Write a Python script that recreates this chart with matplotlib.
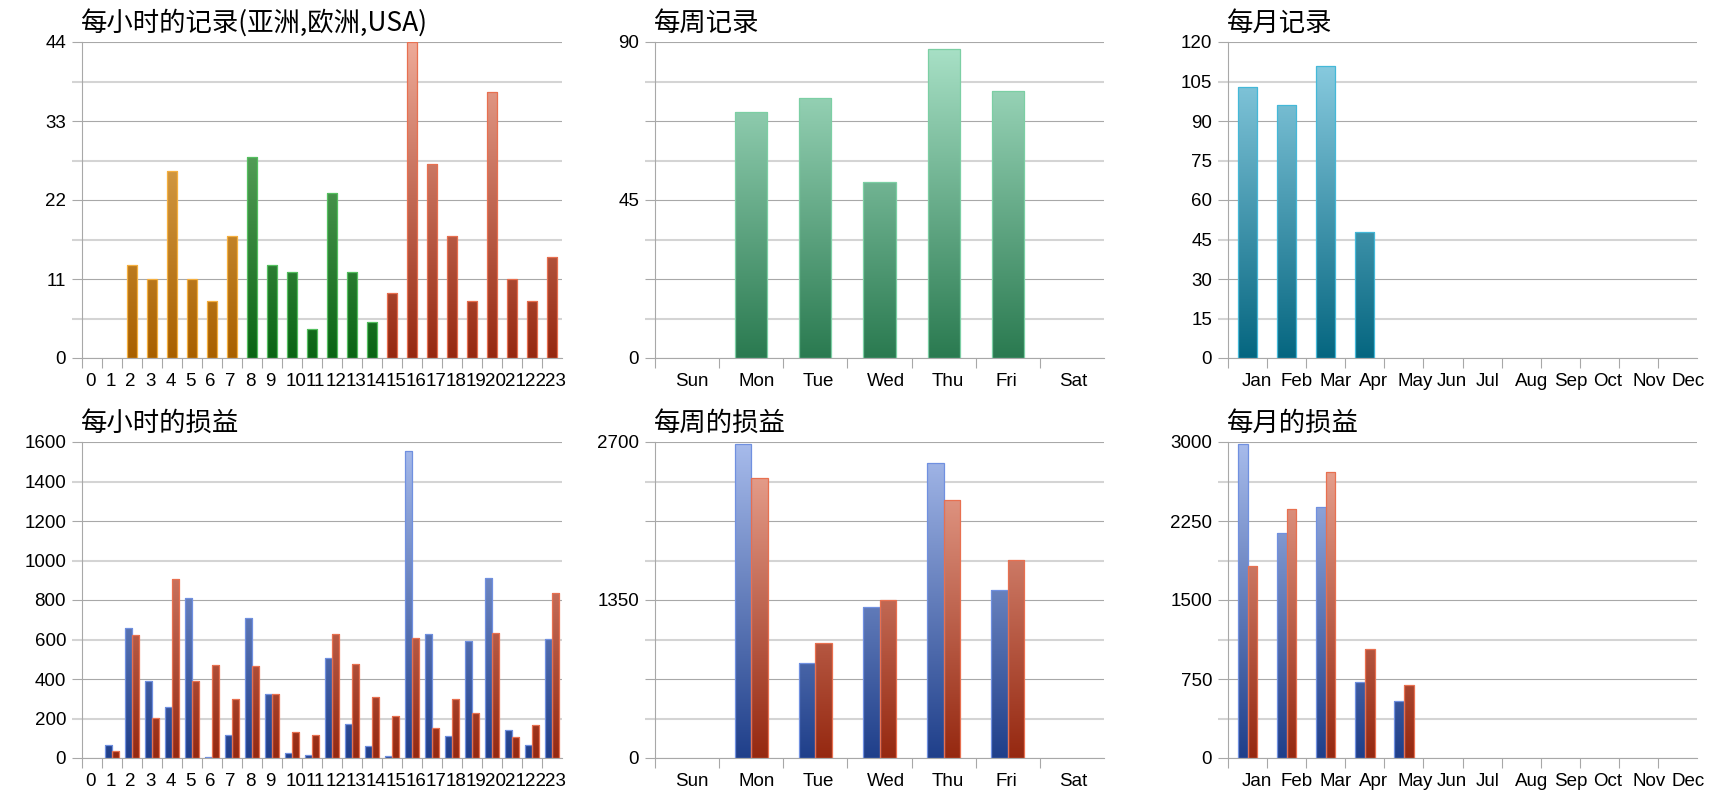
import numpy as np
import matplotlib
matplotlib.use('Agg')
import matplotlib.pyplot as plt
from matplotlib.colors import LinearSegmentedColormap
from matplotlib.transforms import ScaledTranslation

plt.rcParams['font.family'] = ['Liberation Sans', 'DejaVu Sans']

hours = [str(h) for h in range(24)]
days = ['Sun', 'Mon', 'Tue', 'Wed', 'Thu', 'Fri', 'Sat']
months = ['Jan', 'Feb', 'Mar', 'Apr', 'May', 'Jun', 'Jul', 'Aug', 'Sep', 'Oct', 'Nov', 'Dec']

# hourly record counts, split into regions
hour_asia = [0, 0, 13, 11, 26, 11, 8, 17, 0, 0, 0, 0, 0, 0, 0, 0, 0, 0, 0, 0, 0, 0, 0, 0]
hour_europe = [0, 0, 0, 0, 0, 0, 0, 0, 28, 13, 12, 4, 23, 12, 5, 0, 0, 0, 0, 0, 0, 0, 0, 0]
hour_usa = [0, 0, 0, 0, 0, 0, 0, 0, 0, 0, 0, 0, 0, 0, 0, 9, 44, 27, 17, 8, 37, 11, 8, 14]

hour_gain = [0, 66, 658, 392, 256, 810, 6, 118, 709, 322, 24, 15, 508, 174, 59, 12,
             1556, 630, 110, 594, 913, 143, 66, 603]
hour_loss = [0, 34, 621, 204, 908, 390, 471, 300, 466, 324, 132, 116, 630, 478, 309, 213,
             609, 152, 297, 226, 631, 105, 167, 835]

week_rec = [0, 70, 74, 50, 88, 76, 0]
week_gain = [0, 2686, 809, 1290, 2521, 1438, 0]
week_loss = [0, 2395, 980, 1347, 2202, 1692, 0]

month_rec = [103, 96, 111, 48, 0, 0, 0, 0, 0, 0, 0, 0]
month_gain = [2978, 2136, 2380, 725, 538, 0, 0, 0, 0, 0, 0, 0]
month_loss = [1820, 2364, 2718, 1032, 693, 0, 0, 0, 0, 0, 0, 0]

ORANGE = ('#a86000', '#ecbc6c', '#f5b040')
GREEN = ('#0a6414', '#7cbc7c', '#55c060')
RED = ('#952810', '#eeaa98', '#e87050')
MINT = ('#2a7a50', '#aae2c8', '#7ccfa4')
TEAL = ('#056680', '#92d2e6', '#44b8d8')
BLUE = ('#1f3f8a', '#a8bcec', '#7090e0')

DARK = '#a8a8a8'
LIGHT = '#d4d4d4'


def grad_bars(ax, x, vals, width, style, ymax):
    bottom, top, edge = style
    cmap = LinearSegmentedColormap.from_list('g', [bottom, top])
    grad = np.linspace(0, 1, 256).reshape(-1, 1)
    bars = ax.bar(x, vals, width, facecolor='none', edgecolor=edge, linewidth=0.9, zorder=3)
    for p, v in zip(bars.patches, vals):
        if v <= 0:
            p.set_visible(False)
            continue
        x0 = p.get_x()
        im = ax.imshow(grad, extent=[x0, x0 + p.get_width(), 0, ymax], origin='lower',
                       aspect='auto', cmap=cmap, zorder=2, interpolation='bilinear')
        im.set_clip_path(p)


def setup(ax, title, cats, ymax, labels_at, shift_px):
    n = len(cats)
    ax.set_xlim(-0.5, n - 0.5)
    ax.set_ylim(0, ymax)
    for s in ['top', 'right']:
        ax.spines[s].set_visible(False)
    for s in ['left', 'bottom']:
        ax.spines[s].set_color(DARK)
        ax.spines[s].set_linewidth(0.8)
    step = ymax / 8
    major = [i * step for i in range(0, 9, 2)]
    minor = [i * step for i in range(1, 9, 2)]

    def lab(v):
        return f'{v:g}' if any(abs(v - l) < 1e-6 for l in labels_at) else ''
    ax.set_yticks(major, [lab(v) for v in major])
    ax.set_yticks(minor, [lab(v) for v in minor], minor=True)
    ax.tick_params(axis='y', which='major', length=7.2, width=0.8, color=DARK, labelsize=13.5, pad=4.3)
    ax.tick_params(axis='y', which='minor', length=7.2, width=1.5, color=LIGHT, labelsize=13.5, pad=4.3)
    ax.grid(axis='y', which='major', color=DARK, linewidth=0.8, zorder=0)
    ax.grid(axis='y', which='minor', color=LIGHT, linewidth=1.5, zorder=0)
    ax.set_axisbelow(True)

    ax.set_xticks(np.arange(n), cats)
    ax.set_xticks(np.arange(n) - 0.5, minor=True)
    ax.tick_params(axis='x', which='major', length=0, labelsize=13.5, pad=10.5)
    ax.tick_params(axis='x', which='minor', length=7.2, width=0.8, color=DARK)
    # labels sit left-aligned a little inside each category slot
    for t in ax.get_xticklabels():
        t.set_horizontalalignment('left')
        t.set_transform(t.get_transform() + ScaledTranslation(shift_px / 100, 0, ax.figure.dpi_scale_trans))
    ax.set_title(title, loc='left', fontsize=19, pad=8, x=-0.002, fontweight='light',
                 family=['Noto Sans CJK SC', 'DejaVu Sans'])


fig = plt.figure(figsize=(17.2, 8), dpi=100)
lefts = [82, 655, 1228]
rights = [562, 1104, 1697]
axes = {}
for r, top in enumerate([42, 442]):
    for c in range(3):
        axes[(r, c)] = fig.add_axes([lefts[c] / 1720, (800 - top - 316) / 800,
                                     (rights[c] - lefts[c]) / 1720, 316 / 800])

# hourly records
ax = axes[(0, 0)]
x = np.arange(24)
grad_bars(ax, x, hour_asia, 0.52, ORANGE, 44)
grad_bars(ax, x, hour_europe, 0.52, GREEN, 44)
grad_bars(ax, x, hour_usa, 0.52, RED, 44)
setup(ax, '每小时的记录(亚洲,欧洲,USA)', hours, 44, [0, 11, 22, 33, 44], -6.5)

# hourly gain / loss
ax = axes[(1, 0)]
grad_bars(ax, x - 0.185, hour_gain, 0.37, BLUE, 1600)
grad_bars(ax, x + 0.185, hour_loss, 0.37, RED, 1600)
setup(ax, '每小时的损益', hours, 1600, list(range(0, 1601, 200)), -6.5)

# weekly records
ax = axes[(0, 1)]
x = np.arange(7)
grad_bars(ax, x, week_rec, 0.5, MINT, 90)
setup(ax, '每周记录', days, 90, [0, 45, 90], -12.4)

# weekly gain / loss
ax = axes[(1, 1)]
grad_bars(ax, x - 0.13, week_gain, 0.26, BLUE, 2700)
grad_bars(ax, x + 0.13, week_loss, 0.26, RED, 2700)
setup(ax, '每周的损益', days, 2700, [0, 1350, 2700], -12.4)

# monthly records
ax = axes[(0, 2)]
x = np.arange(12)
grad_bars(ax, x, month_rec, 0.49, TEAL, 120)
setup(ax, '每月记录', months, 120, list(range(0, 121, 15)), -6)

# monthly gain / loss
ax = axes[(1, 2)]
grad_bars(ax, x - 0.125, month_gain, 0.25, BLUE, 3000)
grad_bars(ax, x + 0.125, month_loss, 0.25, RED, 3000)
setup(ax, '每月的损益', months, 3000, [0, 750, 1500, 2250, 3000], -6)

fig.savefig('out.png', dpi=100)
